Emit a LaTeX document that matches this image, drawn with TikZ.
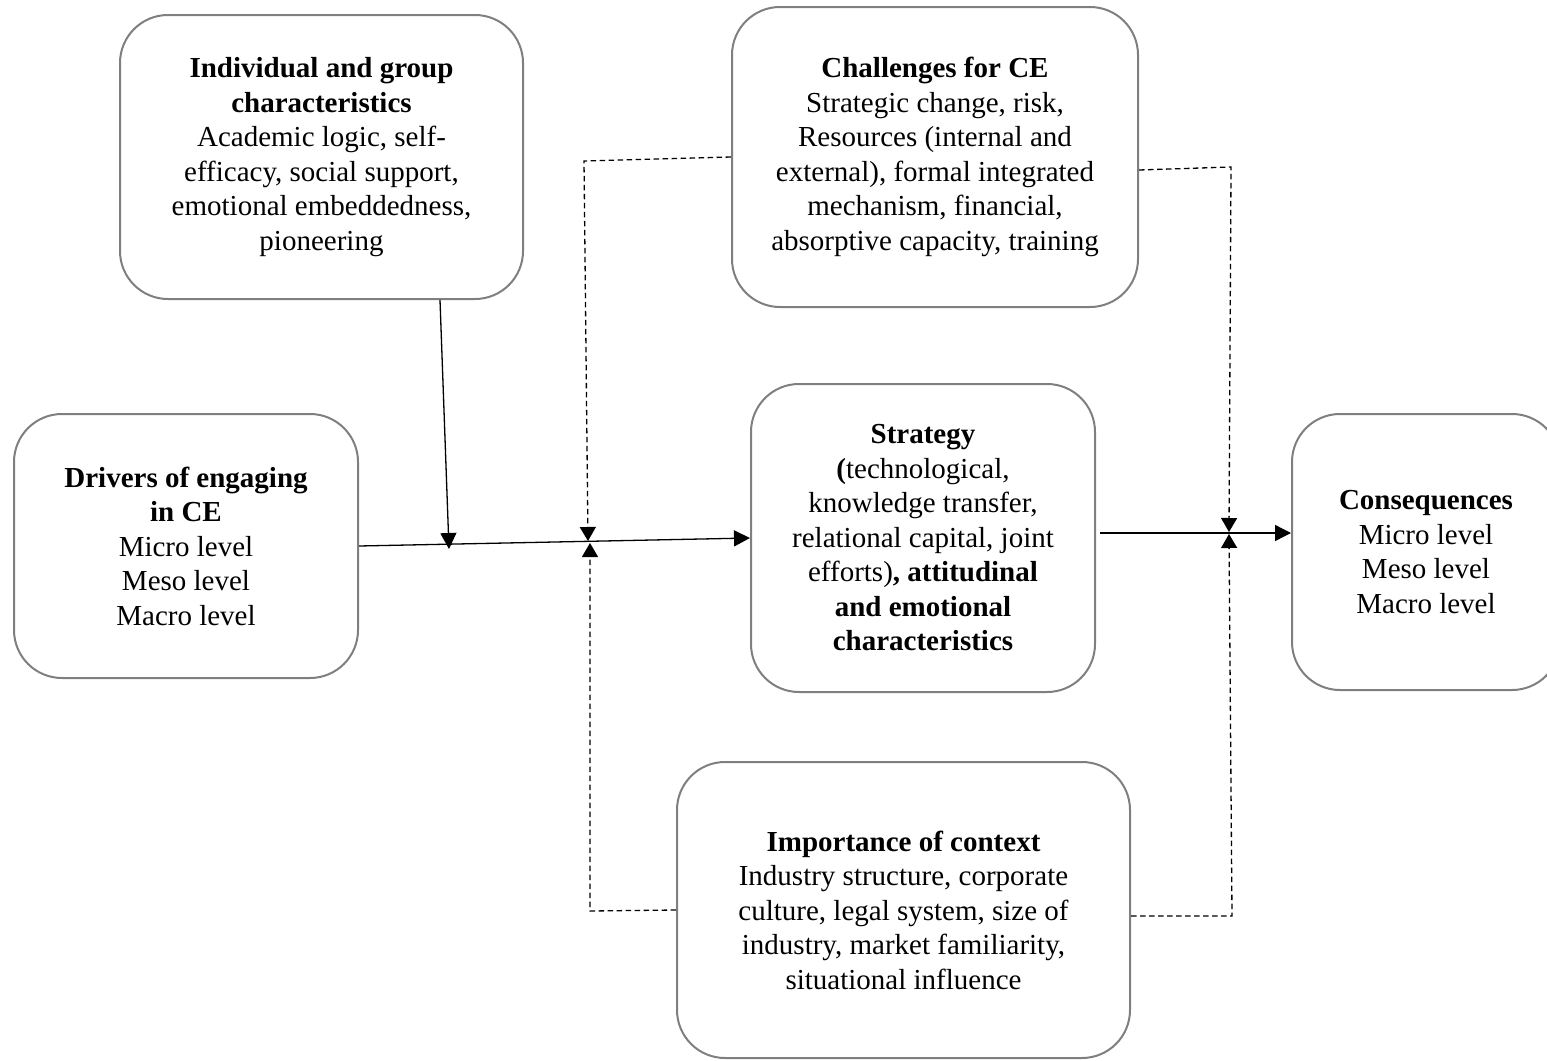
\documentclass[tikz,border=0pt]{standalone}
\usepackage{fontspec}
\setmainfont{Liberation Serif}
\usetikzlibrary{arrows.meta}
\definecolor{boxgray}{HTML}{7F7F7F}
\begin{document}
\begin{tikzpicture}[x=1pt,y=-1pt,
  box/.style={draw=boxgray, line width=2pt, rounded corners=48pt, align=center,
    inner sep=0pt, font=\fontsize{29pt}{34.5pt}\selectfont},
  solidarrow/.style={line width=1.3pt, -{Triangle[length=16pt,width=16pt]}},
  dasharrow/.style={line width=1.3pt, dash pattern=on 5.5pt off 3.5pt,
    -{Triangle[length=14pt,width=16pt]}}]
\path[use as bounding box, clip] (0,0) rectangle (1547,1060);

\node[box, minimum width=403pt, minimum height=284pt] (A) at (321.5,157)
  {\textbf{Individual and group}\\\textbf{characteristics}\\Academic logic, self-\\efficacy, social support,\\emotional embeddedness,\\pioneering};
\node[box, minimum width=406pt, minimum height=300pt] (B) at (935,157)
  {\textbf{Challenges for CE}\\Strategic change, risk,\\Resources (internal and\\external), formal integrated\\mechanism, financial,\\absorptive capacity, training};
\node[box, minimum width=344pt, minimum height=264pt] (C) at (186,546)
  {\textbf{Drivers of engaging}\\\textbf{in CE}\\Micro level\\Meso level\\Macro level};
\node[box, minimum width=344pt, minimum height=308pt] (D) at (923,538)
  {\textbf{Strategy}\\\textbf{(}technological,\\knowledge transfer,\\relational capital, joint\\efforts)\textbf{, attitudinal}\\\textbf{and emotional}\\\textbf{characteristics}};
\node[box, minimum width=268pt, minimum height=276pt] (E) at (1426,552)
  {\textbf{Consequences}\\Micro level\\Meso level\\Macro level};
\node[box, minimum width=453pt, minimum height=296pt] (F) at (903.5,910)
  {\textbf{Importance of context}\\Industry structure, corporate\\culture, legal system, size of\\industry, market familiarity,\\situational influence};

\coordinate (m1) at (449,549);
\coordinate (ul) at (584,161);
\coordinate (m2) at (588,541);
\coordinate (ll) at (590,911);
\coordinate (m3) at (590,543);
\coordinate (ur) at (1231,167);
\coordinate (m4) at (1229,532);
\coordinate (lr) at (1232,916);
\coordinate (m5) at (1229,534);

\draw[solidarrow] (C.east) -- (D.west);
\draw[solidarrow] ([xshift=118.5pt]A.south) -- (m1);
\draw[dasharrow] (B.west) -- (ul) -- (m2);
\draw[dasharrow] (F.west) -- (ll) -- (m3);
\draw[dasharrow] ([yshift=-13pt]B.east) -- (ur) -- (m4);
\draw[dasharrow] ([yshift=-6pt]F.east) -- (lr) -- (m5);
\draw[solidarrow] ([xshift=4pt,yshift=5pt]D.east) -- ([yshift=19pt]E.west);
\end{tikzpicture}
\end{document}
